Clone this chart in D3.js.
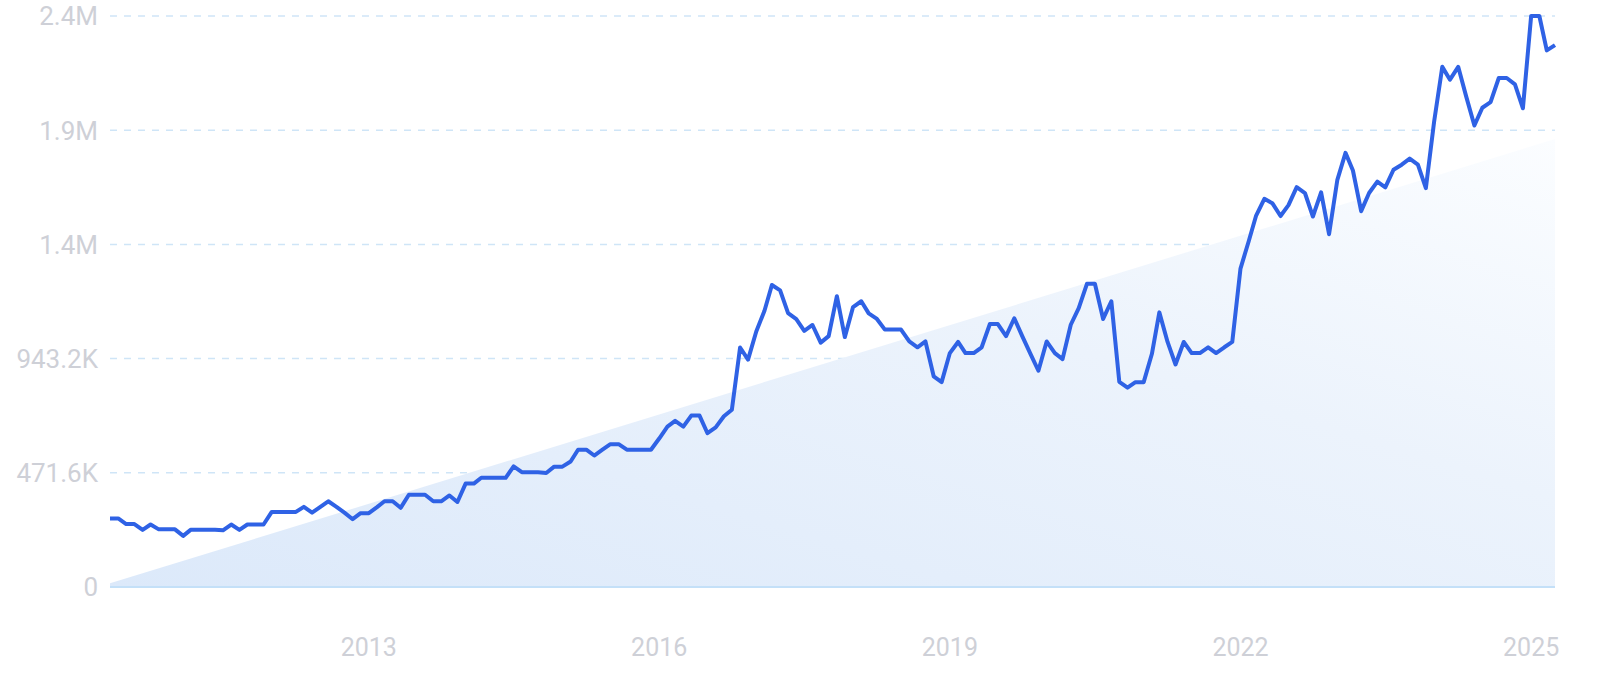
<!DOCTYPE html>
<head>
  <meta charset="utf-8">
  <title>trend</title>
  <style>
    body { margin: 0; background: #fff; }
  </style>
</head>

<script src="https://d3js.org/d3.v7.min.js"></script>

<div id="my_dataviz"></div>

<script>

  // monthly values, May 2010 .. Apr 2025 (thousands)
  const startMonth = new Date(2010, 4, 1);
  const values = [
    283,283,260,260,236,258,238,238,238,211,
    236,236,236,236,234,258,236,258,258,258,
    310,310,310,310,331,307,330,354,331,307,
    280,305,305,330,354,354,327,381,381,381,
    354,354,378,351,427,427,451,451,451,451,
    498,474,474,474,471,497,497,518,567,567,
    543,567,590,590,567,567,567,567,613,662,
    686,662,708,708,635,659,705,732,989,939,
    1055,1141,1247,1225,1131,1106,1058,1082,1009,1036,
    1201,1032,1156,1180,1130,1107,1063,1063,1063,1014,
    990,1014,870,846,966,1012,966,966,990,1086,
    1086,1036,1110,1036,963,893,1014,966,941,1083,
    1152,1252,1252,1107,1180,847,823,846,846,963,
    1134,1012,919,1012,966,966,990,966,990,1012,
    1315,1428,1534,1603,1585,1532,1577,1651,1627,1530,
    1630,1457,1680,1793,1720,1552,1627,1674,1650,1723,
    1744,1769,1744,1647,1920,2148,2095,2148,2026,1906,
    1979,2002,2102,2102,2076,1977,2358,2358,2216,2238
  ];

  // linear trend shown as shaded area (thousands, at first and last month)
  const trendValues = [15, 1850];

  const yTicks = [0, 471.6, 943.2, 1414.8, 1886.4, 2358];
  const yTickLabels = ["0", "471.6K", "943.2K", "1.4M", "1.9M", "2.4M"];
  const xTickYears = [2013, 2016, 2019, 2022, 2025];
  const xTickLabels = ["2013", "2016", "2019", "2022", "2025"];

  const W = 1624, H = 700;
  const margin = {top: 16, right: 69, bottom: 113, left: 110};

  const svg = d3.select("#my_dataviz")
    .append("svg")
      .attr("width", W)
      .attr("height", H);

  const months = d3.timeMonth.range(startMonth, d3.timeMonth.offset(startMonth, values.length));
  const data = values.map((v, i) => ({date: months[i], value: v}));

  const x = d3.scaleTime()
    .domain([months[0], months[months.length - 1]])
    .range([margin.left, W - margin.right]);

  const y = d3.scaleLinear()
    .domain([0, 2358])
    .range([H - margin.bottom, margin.top]);

  // gradient for the trend area
  const defs = svg.append("defs");
  const grad = defs.append("linearGradient")
    .attr("id", "trendFill")
    .attr("x1", "0").attr("y1", "1")
    .attr("x2", "1").attr("y2", "0");
  grad.append("stop").attr("offset", "0%").attr("stop-color", "#dce9fa");
  grad.append("stop").attr("offset", "60%").attr("stop-color", "#ecf3fc");
  grad.append("stop").attr("offset", "100%").attr("stop-color", "#fbfdff");

  // grid lines
  svg.append("g")
    .selectAll("line")
    .data(yTicks.slice(1))
    .join("line")
      .attr("x1", margin.left)
      .attr("x2", W - margin.right)
      .attr("y1", d => y(d))
      .attr("y2", d => y(d))
      .attr("stroke", "#cfe5f7")
      .attr("stroke-width", 1.5)
      .attr("stroke-dasharray", "7,7");

  // trend area
  const trend = [
    {date: months[0], value: trendValues[0]},
    {date: months[months.length - 1], value: trendValues[1]}
  ];
  svg.append("path")
    .datum(trend)
    .attr("fill", "url(#trendFill)")
    .attr("d", d3.area()
      .x(d => x(d.date))
      .y0(y(0))
      .y1(d => y(d.value)));

  // baseline
  svg.append("line")
    .attr("x1", margin.left)
    .attr("x2", W - margin.right)
    .attr("y1", y(0))
    .attr("y2", y(0))
    .attr("stroke", "#c4e0f8")
    .attr("stroke-width", 2);

  // y labels
  svg.append("g")
    .selectAll("text")
    .data(yTicks)
    .join("text")
      .attr("x", 98)
      .attr("y", d => y(d))
      .attr("dy", "0.36em")
      .attr("text-anchor", "end")
      .attr("font-family", "Roboto, sans-serif")
      .attr("font-size", 26)
      .attr("fill", "#ced0d7")
      .text((d, i) => yTickLabels[i]);

  // x labels
  svg.append("g")
    .selectAll("text")
    .data(xTickYears)
    .join("text")
      .attr("x", d => x(new Date(d, 0, 1)))
      .attr("y", 656)
      .attr("text-anchor", "middle")
      .attr("font-family", "Roboto, sans-serif")
      .attr("font-size", 25)
      .attr("fill", "#ced0d7")
      .text((d, i) => xTickLabels[i]);

  // the series line
  svg.append("path")
    .datum(data)
    .attr("fill", "none")
    .attr("stroke", "#2f62e5")
    .attr("stroke-width", 4)
    .attr("stroke-linejoin", "round")
    .attr("d", d3.line()
      .x(d => x(d.date))
      .y(d => y(d.value)));

</script>
